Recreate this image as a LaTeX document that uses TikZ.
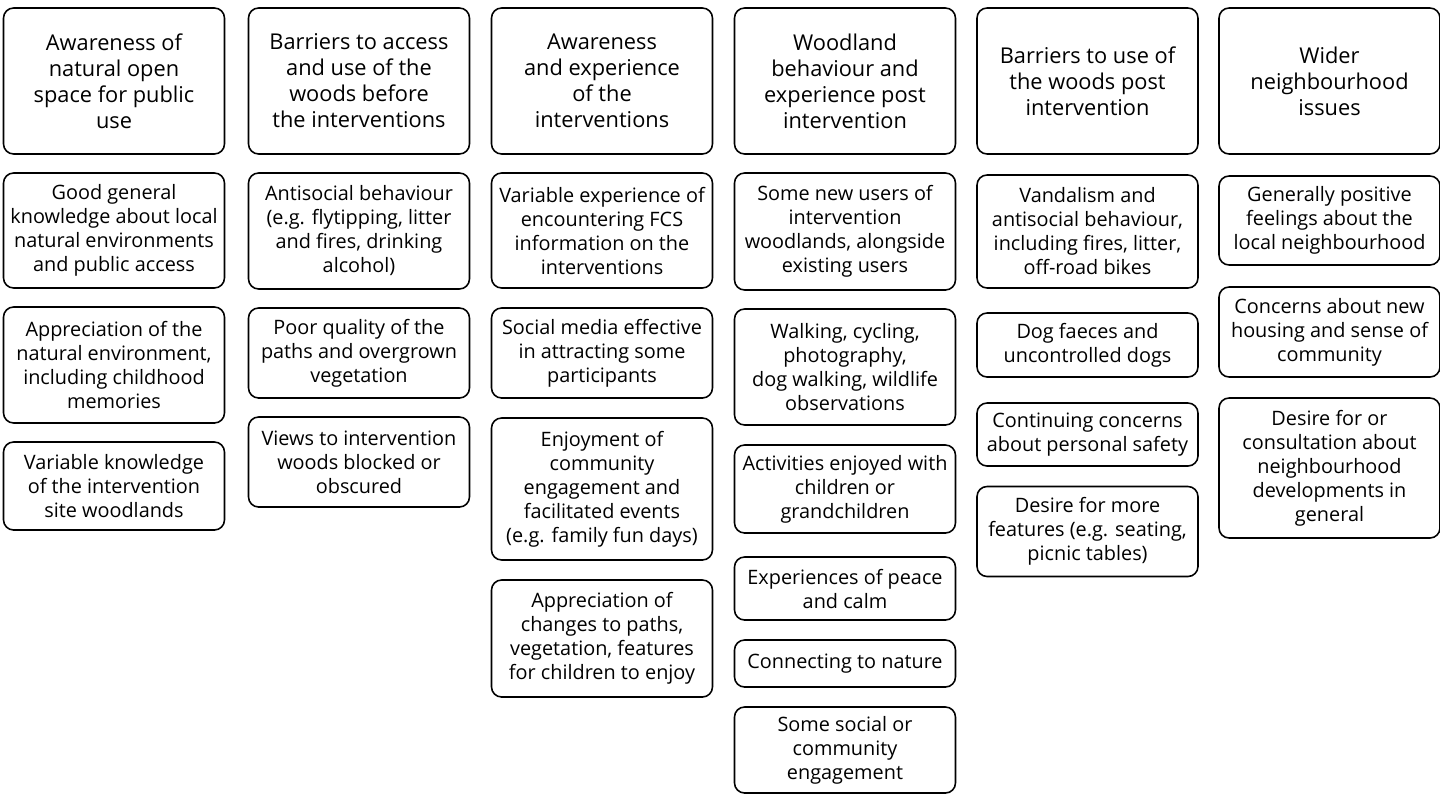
\documentclass[tikz,border=0pt]{standalone}
\usepackage{fontspec}
\setmainfont{Open Sans}
\begin{document}
\begin{tikzpicture}[x=0.02cm, y=-0.02cm,
    box/.style={draw, rounded corners=0.2cm, line width=0.9pt, align=center,
        minimum width=4.42cm, inner sep=1pt},
    head/.style={box, minimum height=2.92cm, font=\fontsize{12.4}{14.8}\selectfont},
    item/.style={box, font=\fontsize{11.3}{13.66}\selectfont}]
    % 0. Khung hình
    \useasboundingbox (0,0) rectangle (1440,795);

    % 1. Hàng tiêu đề
    \node[head] (h1) at (114,81) {Awareness of\\natural open\\space for public\\use};
    \node[head] (h2) at (359,81) {Barriers to access\\and use of the\\woods before\\the interventions};
    \node[head] (h3) at (602,81) {Awareness\\and experience\\of the\\interventions};
    \node[head] (h4) at (845,81) {Woodland\\behaviour and\\experience post\\intervention};
    \node[head] (h5) at (1087.5,81) {Barriers to use of\\the woods post\\intervention};
    \node[head] (h6) at (1329.5,81) {Wider\\neighbourhood\\issues};

    % 2. Cột 1
    \node[item, minimum height=2.30cm] (a1) at (114,230.5) {Good general\\knowledge about local\\natural environments\\and public access};
    \node[item, minimum height=2.32cm] (a2) at (114,365) {Appreciation of the\\natural environment,\\including childhood\\memories};
    \node[item, minimum height=1.76cm] (a3) at (114,486) {Variable knowledge\\of the intervention\\site woodlands};

    % 3. Cột 2
    \node[item, minimum height=2.32cm] (b1) at (359,231) {Antisocial behaviour\\(e.g. flytipping, litter\\and fires, drinking\\alcohol)};
    \node[item, minimum height=1.80cm] (b2) at (359,353) {Poor quality of the\\paths and overgrown\\vegetation};
    \node[item, minimum height=1.80cm] (b3) at (359,462) {Views to intervention\\woods blocked or\\obscured};

    % 4. Cột 3
    \node[item, minimum height=2.30cm] (c1) at (602,230.5) {Variable experience of\\encountering FCS\\information on the\\interventions};
    \node[item, minimum height=1.80cm] (c2) at (602,353) {Social media effective\\in attracting some\\participants};
    \node[item, minimum height=2.84cm] (c3) at (602,489) {Enjoyment of\\community\\engagement and\\facilitated events\\(e.g. family fun days)};
    \node[item, minimum height=2.34cm] (c4) at (602,638.5) {Appreciation of\\changes to paths,\\vegetation, features\\for children to enjoy};

    % 5. Cột 4
    \node[item, minimum height=2.34cm] (d1) at (845,231.5) {Some new users of\\intervention\\woodlands, alongside\\existing users};
    \node[item, minimum height=2.32cm] (d2) at (845,367) {Walking, cycling,\\photography,\\dog walking, wildlife\\observations};
    \node[item, minimum height=1.76cm] (d3) at (845,489) {Activities enjoyed with\\children or\\grandchildren};
    \node[item, minimum height=1.26cm] (d4) at (845,588.5) {Experiences of peace\\and calm};
    \node[item, minimum height=0.94cm] (d5) at (845,663.5) {Connecting to nature};
    \node[item, minimum height=1.72cm] (d6) at (845,750) {Some social or\\community\\engagement};

    % 6. Cột 5
    \node[item, minimum height=2.26cm] (e1) at (1087.5,231.5) {Vandalism and\\antisocial behaviour,\\including fires, litter,\\off-road bikes};
    \node[item, minimum height=1.28cm] (e2) at (1087.5,345) {Dog faeces and\\uncontrolled dogs};
    \node[item, minimum height=1.26cm] (e3) at (1087.5,434.5) {Continuing concerns\\about personal safety};
    \node[item, minimum height=1.80cm] (e4) at (1087.5,531.5) {Desire for more\\features (e.g. seating,\\picnic tables)};

    % 7. Cột 6
    \node[item, minimum height=1.78cm] (f1) at (1329.5,220.5) {Generally positive\\feelings about the\\local neighbourhood};
    \node[item, minimum height=1.80cm] (f2) at (1329.5,332) {Concerns about new\\housing and sense of\\community};
    \node[item, minimum height=2.80cm] (f3) at (1329.5,468) {Desire for or\\consultation about\\neighbourhood\\developments in\\general};
\end{tikzpicture}
\end{document}
